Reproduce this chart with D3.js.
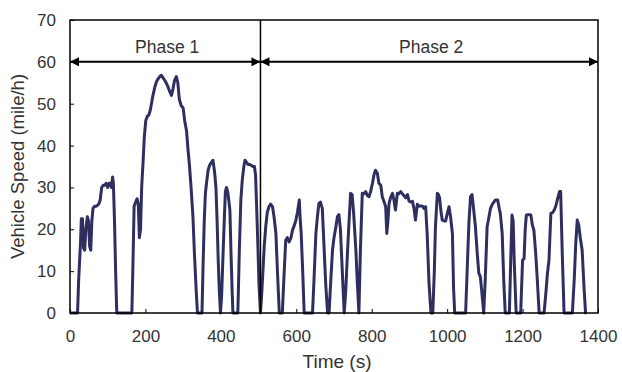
<!DOCTYPE html>
<html>
<head>
<meta charset="utf-8">
<script src="https://cdn.jsdelivr.net/npm/d3@7"></script>
<style>
  body { margin: 0; background: #fff; }
  text { font-family: "Liberation Sans", Arial, sans-serif; }
</style>
</head>
<body>
<div id="chart-container"></div>
<script>
// drive cycle: time (s) / speed (mile/h)
const times = [
  0, 20, 23, 28, 30, 33, 36, 39, 42, 46, 49, 52, 55, 58, 61, 65, 70, 76, 80, 84,
  88, 92, 96, 100, 104, 108, 110, 113, 115, 118, 121, 124, 164, 167, 170, 174, 178, 181, 184, 187,
  190, 194, 197, 201, 205, 209, 213, 216, 220, 225, 229, 234, 238, 242, 246, 251, 255, 260, 264, 269,
  273, 277, 282, 286, 290, 295, 300, 304, 309, 313, 317, 321, 326, 330, 335, 338, 350, 353, 356, 359,
  362, 366, 370, 375, 379, 383, 387, 390, 393, 396, 399, 402, 405, 409, 412, 415, 418, 421, 424, 427,
  430, 432, 445, 449, 453, 457, 461, 464, 468, 472, 476, 480, 485, 489, 492, 495, 498, 501, 505,
  508, 511, 515, 519, 523, 528, 532, 537, 541, 546, 550, 555, 563, 567, 572, 576, 581, 586, 590, 595,
  599, 603, 608, 610, 613, 617, 621, 643, 647, 652, 656, 660, 664, 669, 673, 678, 683, 687, 691, 696,
  700, 705, 709, 713, 717, 722, 727, 731, 736, 740, 744, 748, 752, 758, 762, 766, 770, 775, 780, 784,
  789, 793, 797, 802, 806, 810, 815, 819, 824, 828, 833, 837, 840, 843, 846, 850, 855, 859, 863, 866,
  868, 872, 877, 881, 886, 890, 895, 899, 904, 908, 912, 916, 921, 925, 930, 935, 938, 943, 947, 952,
  957, 962, 966, 969, 974, 977, 980, 984, 987, 992, 996, 1001, 1005, 1009, 1014, 1017, 1020, 1049, 1055, 1058,
  1062, 1066, 1070, 1075, 1080, 1084, 1088, 1092, 1097, 1101, 1106, 1111, 1115, 1120, 1128, 1134, 1138, 1141, 1146, 1150,
  1154, 1165, 1169, 1172, 1175, 1178, 1183, 1195, 1200, 1204, 1207, 1210, 1216, 1222, 1226, 1230, 1235, 1239, 1244, 1257,
  1262, 1266, 1270, 1275, 1280, 1284, 1288, 1292, 1295, 1298, 1301, 1305, 1310, 1332, 1337, 1341, 1345, 1349, 1353, 1358,
  1363, 1367, 1369
];
const speeds = [
  0, 0, 8, 17, 22.5, 22.5, 15.5, 15, 20, 23, 22, 16, 15, 22, 25, 25.5, 25.5, 26, 27, 30,
  30.5, 30.5, 31, 30, 31, 31, 30, 32.5, 31, 22, 10, 0, 0, 12, 25.5, 26.5, 27.3, 26, 18, 20,
  30, 36.5, 42, 46, 47, 47.3, 48.5, 50, 52, 54, 55.2, 56, 56.5, 56.8, 56.3, 55.6, 55, 54, 53, 52,
  53.5, 55.5, 56.5, 55, 51, 49.5, 49, 46, 43.5, 39, 35, 30, 23, 14, 4.7, 0, 0, 12, 22, 28.6,
  31, 34, 35.3, 36, 36.5, 34, 30, 22, 12.6, 5, 0, 4, 12, 22, 29, 30, 29, 27, 24.5, 14,
  5, 0, 0, 15, 27, 32, 35, 36.5, 36, 35.5, 35.5, 35.3, 35, 35, 33, 25, 16.7, 7, 0,
  4, 9, 16, 20.6, 24, 25.5, 26, 25.4, 23, 19, 10, 0, 0, 8, 17.4, 18, 17, 18, 19.8, 21,
  22.2, 24, 27, 23, 19, 10, 0, 0, 8, 19, 23, 26.2, 26.5, 25, 17, 7, 0, 0, 7, 15,
  18, 20.6, 23, 23.5, 20, 10, 0, 5, 15, 22, 28.6, 28.3, 24, 15, 7, 0, 15, 28.6, 28.5, 29,
  28, 27.8, 29, 31, 33, 34.1, 33.4, 31, 30.5, 27.8, 26.5, 25.4, 19, 22, 26.2, 27.5, 28.6, 27, 24.6, 27,
  28.6, 28.5, 29, 28.5, 28, 27.5, 28.3, 26.7, 26.5, 26.7, 25, 22.2, 26, 25.5, 25.6, 25.5, 25, 25.4, 19, 7,
  0, 0, 10, 20.6, 28.6, 28.3, 27.5, 24, 22.2, 22, 22, 24, 25.4, 23, 19, 6, 0, 0, 15, 22,
  27.8, 28.3, 25, 20.6, 14, 9.5, 8.7, 5, 0, 8, 20.6, 23, 25, 26, 27, 27, 25, 23.8, 19, 8,
  0, 0, 14, 23.4, 22, 12, 0, 0, 12.6, 13, 20, 23.4, 23.5, 23.4, 21, 19.8, 14, 8, 0, 0,
  5, 9.5, 12.6, 23.8, 24, 24.6, 25.5, 27, 28, 29, 29, 15, 0, 0, 8, 16.6, 22.2, 21, 18, 15,
  6, 0, 0
];

const xTicks = [0, 200, 400, 600, 800, 1000, 1200, 1400];
const yTicks = [0, 10, 20, 30, 40, 50, 60, 70];
const phaseNames = ["Phase 1", "Phase 2"];
const phaseBounds = [0, 505, 1400];
const phaseArrowLevel = 60;

const data = times.map((t, i) => ({ t: t, v: speeds[i] }));

const W = 622, H = 372;
const margin = { top: 20, right: 24, bottom: 59, left: 70 };
const width = W - margin.left - margin.right;
const height = H - margin.top - margin.bottom;

const svg = d3.select("#chart-container").append("svg")
  .attr("width", W).attr("height", H);

const defs = svg.append("defs");
defs.append("marker")
  .attr("id", "arrow")
  .attr("viewBox", "0 0 10 10")
  .attr("refX", 10).attr("refY", 5)
  .attr("markerWidth", 11).attr("markerHeight", 9)
  .attr("markerUnits", "userSpaceOnUse")
  .attr("orient", "auto-start-reverse")
  .append("path").attr("d", "M0,0 L10,5 L0,10 Z").attr("fill", "#000");

const g = svg.append("g")
  .attr("transform", "translate(" + margin.left + "," + margin.top + ")");

const x = d3.scaleLinear().domain([0, 1400]).range([0, width]);
const y = d3.scaleLinear().domain([0, 70]).range([height, 0]);

// axes, ticks inside
const xAxis = d3.axisBottom(x).tickValues(xTicks).tickFormat(d3.format("d"))
  .tickSize(-4).tickPadding(17);
const yAxis = d3.axisLeft(y).tickValues(yTicks).tickFormat(d3.format("d"))
  .tickSize(-4).tickPadding(14);

const gx = g.append("g").attr("transform", "translate(0," + height + ")").call(xAxis);
const gy = g.append("g").call(yAxis);
[gx, gy].forEach(a => {
  a.select(".domain").remove();
  a.selectAll("line").attr("stroke", "#000").attr("stroke-width", 1);
  a.selectAll("text").attr("font-size", 17).attr("fill", "#333")
    .attr("font-family", "'Liberation Sans', Arial, sans-serif");
});

// speed trace
g.append("path")
  .datum(data)
  .attr("fill", "none")
  .attr("stroke", "#2f2f5f")
  .attr("stroke-width", 3)
  .attr("stroke-linejoin", "round")
  .attr("d", d3.line().x(d => x(d.t)).y(d => y(d.v)));

// frame
g.append("rect")
  .attr("width", width).attr("height", height)
  .attr("fill", "none").attr("stroke", "#000").attr("stroke-width", 1.5);

// phase divider
g.append("line")
  .attr("x1", x(phaseBounds[1])).attr("x2", x(phaseBounds[1]))
  .attr("y1", 0).attr("y2", height)
  .attr("stroke", "#000").attr("stroke-width", 1.5);

// phase arrows + labels
phaseNames.forEach((name, i) => {
  const x0 = x(phaseBounds[i]), x1 = x(phaseBounds[i + 1]);
  g.append("line")
    .attr("x1", x0).attr("x2", x1)
    .attr("y1", y(phaseArrowLevel)).attr("y2", y(phaseArrowLevel))
    .attr("stroke", "#000").attr("stroke-width", 2)
    .attr("marker-start", "url(#arrow)")
    .attr("marker-end", "url(#arrow)");
  g.append("text")
    .attr("x", (x0 + x1) / 2 + 2)
    .attr("y", y(phaseArrowLevel) - 9)
    .attr("text-anchor", "middle")
    .attr("font-size", 17.5).attr("fill", "#333")
    .text(name);
});

// axis titles
svg.append("text")
  .attr("x", margin.left + width / 2 + 3)
  .attr("y", 368)
  .attr("text-anchor", "middle")
  .attr("font-size", 19).attr("fill", "#333")
  .text("Time (s)");

svg.append("text")
  .attr("transform", "translate(24," + (margin.top + height / 2) + ") rotate(-90)")
  .attr("text-anchor", "middle")
  .attr("font-size", 18.5).attr("fill", "#333")
  .text("Vehicle Speed (mile/h)");
</script>
</body>
</html>
